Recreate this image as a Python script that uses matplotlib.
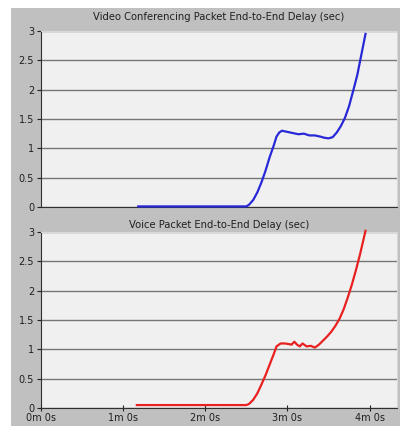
import numpy as np
import matplotlib.pyplot as plt
from matplotlib.patches import Rectangle

# time in seconds, delay in seconds
video_t = [71, 100, 130, 150, 152, 155, 158, 161, 164, 167, 170, 172, 174,
           176, 180, 184, 188, 192, 196, 200, 204, 207, 210, 213, 216, 219,
           222, 225, 228, 231, 234, 237]
video_d = [0.01, 0.01, 0.01, 0.01, 0.04, 0.12, 0.25, 0.42, 0.62, 0.85, 1.05,
           1.2, 1.27, 1.3, 1.28, 1.26, 1.24, 1.25, 1.22, 1.22, 1.2, 1.18, 1.17,
           1.19, 1.27, 1.38, 1.52, 1.72, 1.98, 2.25, 2.6, 2.95]

voice_t = [70, 100, 130, 150, 152, 155, 158, 161, 164, 167, 170, 172, 175,
           178, 181, 183, 185, 187, 189, 191, 194, 197, 200, 203, 206, 209,
           212, 215, 218, 221, 224, 227, 230, 233, 236, 237]
voice_d = [0.05, 0.05, 0.05, 0.05, 0.07, 0.14, 0.25, 0.4, 0.56, 0.74, 0.92,
           1.05, 1.1, 1.1, 1.09, 1.08, 1.13, 1.08, 1.05, 1.1, 1.05, 1.06, 1.03,
           1.08, 1.15, 1.22, 1.3, 1.4, 1.52, 1.68, 1.88, 2.1, 2.35, 2.62, 2.92,
           3.02]

xticks = [0, 60, 120, 180, 240]
xlabels = ["0m 0s", "1m 0s", "2m 0s", "3m 0s", "4m 0s"]
yticks = [0, 0.5, 1, 1.5, 2, 2.5, 3]
ylabels = ["0", "0.5", "1", "1.5", "2", "2.5", "3"]

titles = ["Video Conferencing Packet End-to-End Delay (sec)",
          "Voice Packet End-to-End Delay (sec)"]
title_pads = [8, 3]

fig = plt.figure(figsize=(4.03, 4.26), dpi=100)
fig.patch.set_facecolor("white")
bg = Rectangle((11 / 403, 0), 389 / 403, 418 / 426,
               transform=fig.transFigure, facecolor="#c0c0c0",
               edgecolor="none", zorder=-10)
fig.add_artist(bg)

ax1 = fig.add_axes([41 / 403, 1 - 207 / 426, 356 / 403, 176 / 426])
ax2 = fig.add_axes([41 / 403, 1 - 408 / 426, 356 / 403, 176 / 426])

series = [(video_t, video_d, "#2828d8"), (voice_t, voice_d, "#e82020")]

for ax, (t, d, c), title, tp in zip([ax1, ax2], series, titles, title_pads):
    ax.set_facecolor("#f0f0f0")
    ax.plot(t, d, color=c, lw=1.6, zorder=3, clip_on=False)
    ax.set_xlim(0, 260)
    ax.set_ylim(0, 3)
    ax.set_yticks(yticks)
    ax.set_yticklabels(ylabels)
    ax.yaxis.grid(True, color="#767676", lw=1.0)
    ax.set_axisbelow(True)
    ax.set_title(title, fontsize=7.2, color="#202020", pad=tp)
    for s in ["top", "right"]:
        ax.spines[s].set_color("#d8d8d8")
    for s in ["left", "bottom"]:
        ax.spines[s].set_color("#303030")
    ax.tick_params(axis="y", labelsize=7, length=3, pad=2, colors="#202020")

ax1.set_xticks([])
ax2.set_xticks(xticks)
ax2.set_xticklabels(xlabels)
ax2.tick_params(axis="x", labelsize=7, length=4, direction="inout", pad=1.5,
                colors="#202020")

fig.savefig("out.png", dpi=100, facecolor=fig.get_facecolor())
